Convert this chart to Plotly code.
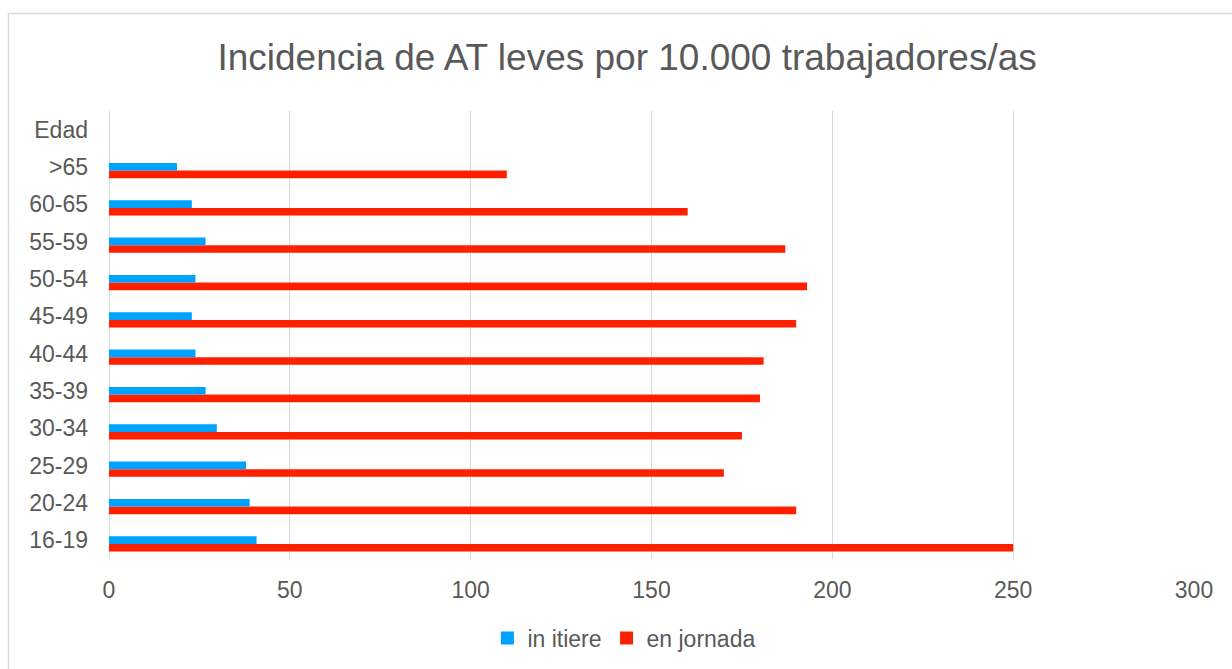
import plotly.graph_objects as go

categories = ["16-19", "20-24", "25-29", "30-34", "35-39", "40-44", "45-49",
              "50-54", "55-59", "60-65", ">65", "Edad"]
in_itiere = [40.8, 38.9, 37.9, 29.8, 26.7, 23.9, 22.9, 23.9, 26.7, 22.9, 18.8, None]
en_jornada = [250, 190, 170, 175, 180, 181, 190, 193, 187, 160, 110, None]
x_ticks = [0, 50, 100, 150, 200, 250, 300]

TXT = "#595959"
GRID = "#d9d9d9"
BLUE = "#00a2ff"
RED = "#ff2000"
FONT = "Liberation Sans, Arial, sans-serif"

fig = go.Figure()
fig.add_trace(go.Bar(
    y=categories, x=en_jornada, orientation="h", name="en jornada",
    marker=dict(color=RED, line=dict(width=0)),
    width=0.205, offset=-0.30, showlegend=False,
))
fig.add_trace(go.Bar(
    y=categories, x=in_itiere, orientation="h", name="in itiere",
    marker=dict(color=BLUE, line=dict(width=0)),
    width=0.205, offset=-0.095, showlegend=False,
))
# legend entries with square symbols
for nm, col in [("in itiere", BLUE), ("en jornada", RED)]:
    fig.add_trace(go.Scatter(
        x=[None], y=[None], mode="markers", name=nm,
        marker=dict(symbol="square", size=13, color=col, line=dict(width=0)),
        showlegend=True,
    ))

fig.update_layout(
    width=1232, height=669,
    barmode="overlay",
    paper_bgcolor="white", plot_bgcolor="white",
    margin=dict(l=109, r=38, t=111, b=110, autoexpand=False),
    font=dict(family=FONT, size=23, color=TXT),
    title=dict(text="Incidencia de AT leves por 10.000 trabajadores/as",
               font=dict(family=FONT, size=37, color=TXT),
               x=0.509, xanchor="center", xref="container",
               y=1 - 57 / 669, yanchor="middle", yref="container"),
    xaxis=dict(range=[0, 300], tickvals=x_ticks, showgrid=True, gridcolor=GRID,
               gridwidth=1.3, zeroline=True, zerolinecolor=GRID, zerolinewidth=1.3,
               showline=False, ticks="", ticklabelstandoff=15, automargin=False,
               tickfont=dict(size=23, color=TXT), fixedrange=True),
    yaxis=dict(type="category", categoryorder="array", categoryarray=categories,
               range=[-0.5, 11.5], showgrid=False, zeroline=False, automargin=False,
               showline=False, ticks="", ticklabelstandoff=20,
               tickfont=dict(size=23, color=TXT)),
    legend=dict(orientation="h", x=0.475, xanchor="center",
                y=1 - 638 / 669, yref="container",
                yanchor="middle", font=dict(size=23, color=TXT),
                itemwidth=30, traceorder="normal"),
    showlegend=True,
    shapes=[dict(type="rect", xref="paper", yref="paper",
                 x0=-0.0927, x1=1.2, y0=-0.5, y1=1.2176,
                 line=dict(color=GRID, width=1.3), fillcolor="rgba(0,0,0,0)",
                 layer="below")],
)

fig.write_html("out.html", config={"displayModeBar": False},
               post_script="document.body.style.margin='0';document.body.style.overflow='hidden';")
